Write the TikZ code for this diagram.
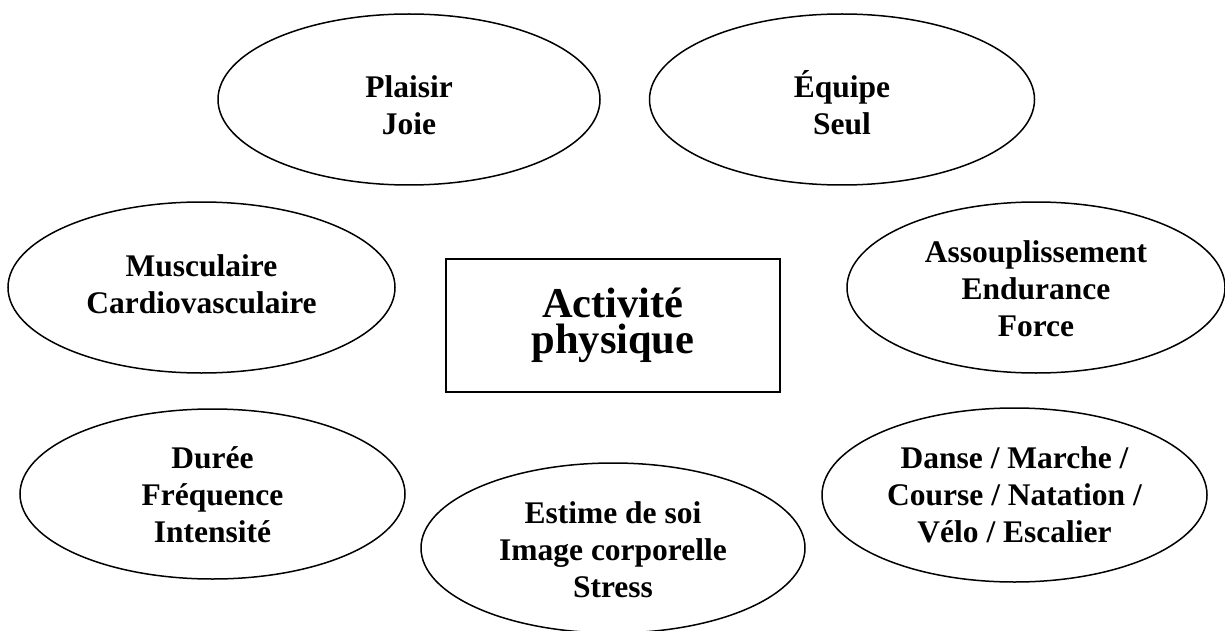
\documentclass[tikz,border=0pt]{standalone}
\usepackage{fontspec}
\setmainfont{Liberation Serif}
\usetikzlibrary{shapes.geometric}
\begin{document}
\begin{tikzpicture}[x=1pt,y=-1pt,
  oval/.style={draw, ellipse, line width=1.5pt, inner sep=0pt,
    minimum width=385pt, minimum height=171pt, align=center,
    font=\fontsize{31.5}{37}\selectfont\bfseries},
  mainbox/.style={draw, rectangle, line width=1.5pt, inner sep=0pt,
    minimum width=334pt, minimum height=133pt, align=center,
    font=\fontsize{42.5}{36.5}\selectfont\bfseries}]
\useasboundingbox (0,0) rectangle (1225,631);
\fill[white] (0,0) rectangle (1225,631);
\node[oval, minimum width=382pt] (plaisir) at (409,99.5)
  {\rule{0pt}{34pt}\smash{Plaisir}\\\smash{Joie}};
\node[oval] (equipe) at (842,99.5)
  {\rule{0pt}{34pt}\smash{Équipe}\\\smash{Seul}};
\node[oval, minimum width=387pt] (musc) at (201.5,287.5)
  {\rule{0pt}{15.5pt}\smash{Musculaire}\\\smash{Cardiovasculaire}};
\node[oval, minimum width=378pt] (assoup) at (1036,287.5)
  {\rule{0pt}{24.5pt}\smash{Assouplissement}\\\smash{Endurance}\\\smash{Force}};
\node[oval, minimum height=170pt] (duree) at (212.5,494)
  {\rule{0pt}{22pt}\smash{Durée}\\\smash{Fréquence}\\\smash{Intensité}};
\node[oval, minimum width=384pt, minimum height=170pt] (estime) at (613,548)
  {\rule{0pt}{24pt}\smash{Estime de soi}\\\smash{Image corporelle}\\\smash{Stress}};
\node[oval, minimum height=174pt] (danse) at (1014.5,495)
  {\rule{0pt}{20pt}\smash{Danse / Marche /}\\\smash{Course / Natation /}\\\smash{Vélo / Escalier}};
\node[mainbox] (activite) at (613,325.5)
  {\rule{0pt}{20pt}\smash{Activité}\\\smash{physique}};
\end{tikzpicture}
\end{document}
